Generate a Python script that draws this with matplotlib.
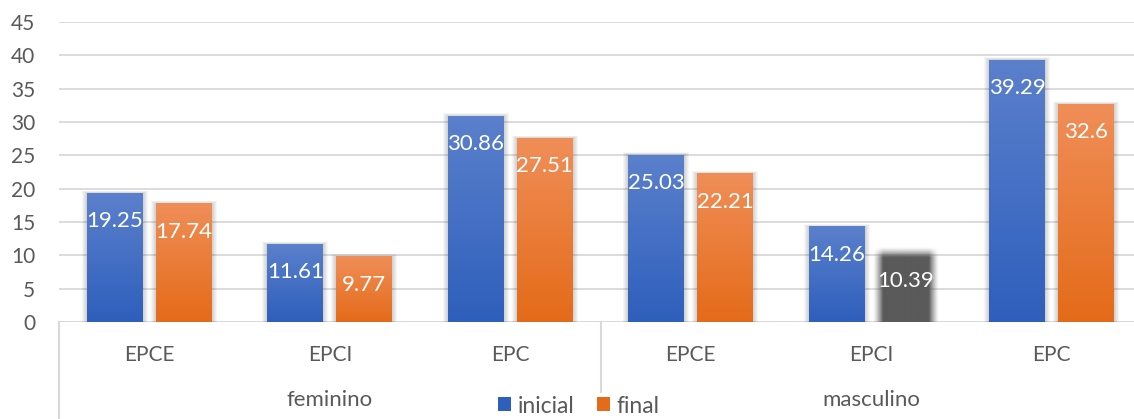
import numpy as np
import matplotlib
matplotlib.use('Agg')
import matplotlib.pyplot as plt
import matplotlib.transforms as mtransforms
from matplotlib.colors import to_rgb
from matplotlib.patches import Patch

plt.rcParams['font.family'] = ['Lato', 'DejaVu Sans']

# --- data -------------------------------------------------------------
categorias = ['EPCE', 'EPCI', 'EPC', 'EPCE', 'EPCI', 'EPC']
grupos = ['feminino', 'masculino']
inicial = [19.25, 11.61, 30.86, 25.03, 14.26, 39.29]
final = [17.74, 9.77, 27.51, 22.21, 10.39, 32.6]
serie_nomes = ['inicial', 'final']

# --- style ------------------------------------------------------------
TXT = '#595959'
GRID = '#d9d9d9'
AZUL = ('#5b80cc', '#2e5fbc')        # top, bottom of gradient
LARANJA = ('#f08e58', '#e46b19')
CINZA = '#5a5a5a'
W = 0.31                              # bar width
OFF = 0.191                           # bar offset from category centre


def gradient(c_top, c_bot, n=256):
    t = np.linspace(0, 1, n)[:, None]
    a, b = np.array(to_rgb(c_top)), np.array(to_rgb(c_bot))
    img = a * (1 - t) + b * t
    return img[:, None, :]


def shadow(ax, x0, x1, h, px_x, px_y):
    # soft halo around a bar, built from stacked translucent rectangles
    for k in range(1, 6):
        ax.add_patch(plt.Rectangle((x0 - k * px_x, 0), (x1 - x0) + 2 * k * px_x,
                                   h + k * px_y * 0.6, color='k',
                                   alpha=0.035, lw=0, zorder=1.5))


def bar_grad(ax, xc, h, cols, px_x, px_y):
    x0, x1 = xc - W / 2, xc + W / 2
    shadow(ax, x0, x1, h, px_x, px_y)
    ax.imshow(gradient(*cols), extent=[x0, x1, 0, h], aspect='auto',
              zorder=2, interpolation='bilinear')


def bar_blur(ax, xc, h, col, px_x, px_y, r=5):
    # flat bar with soft edges
    x0, x1 = xc - W / 2 - r * px_x, xc + W / 2 + r * px_x
    y1 = h + r * px_y
    nx, ny = 200, 400
    xs = np.linspace(x0, x1, nx)
    ys = np.linspace(y1, 0, ny)
    dx = np.minimum(xs - x0, x1 - xs) / (2 * r * px_x)
    dy = (y1 - ys) / (2 * r * px_y)
    alpha = np.clip(dy, 0, 1)[:, None] * np.clip(dx, 0, 1)[None, :]
    alpha = alpha ** 1.3
    img = np.zeros((ny, nx, 4))
    img[..., :3] = to_rgb(col)
    img[..., 3] = alpha
    ax.imshow(img, extent=[x0, x1, 0, y1], aspect='auto', zorder=2,
              interpolation='bilinear')


fig = plt.figure(figsize=(11.34, 4.19), dpi=100)
ax = fig.add_axes([59 / 1134, 97 / 419, (180.5 * 6) / 1134, 300 / 419])

# one pixel expressed in data units
px_x = 1 / 180.5
px_y = 45 / 300

x = np.arange(len(categorias))
for i in x:
    bar_grad(ax, i - OFF, inicial[i], AZUL, px_x, px_y)
    if i == 4:
        bar_blur(ax, i + OFF, final[i], CINZA, px_x, px_y)
    else:
        bar_grad(ax, i + OFF, final[i], LARANJA, px_x, px_y)

# value labels inside the top of each bar
for i in x:
    for xc, v in ((i - OFF, inicial[i]), (i + OFF, final[i])):
        ax.annotate(f'{v:g}', (xc, v), xytext=(0, -20), textcoords='offset points',
                    ha='center', va='center', color='white', fontsize=16,
                    zorder=5)

ax.set_xlim(-0.5, 5.5)
ax.set_ylim(0, 45)

# gridlines
ax.set_yticks(np.arange(0, 50, 5))
ax.yaxis.grid(True, color=GRID, lw=1.3, zorder=0)
ax.set_axisbelow(True)
ax.tick_params(axis='y', length=0, labelsize=15, labelcolor=TXT, pad=17)
ax.set_xticks([])
for s in ax.spines.values():
    s.set_visible(False)
ax.axhline(0, color=GRID, lw=1.3, zorder=1)

# two-level category axis
tr = mtransforms.blended_transform_factory(ax.transData, fig.transFigure)
for i, c in enumerate(categorias):
    ax.text(i, 1 - 355 / 419, c, transform=tr, ha='center', va='center',
            fontsize=15, color=TXT, clip_on=False)
for g, nome in enumerate(grupos):
    ax.text(3 * g + 1, 1 - 400 / 419, nome, transform=tr, ha='center',
            va='center', fontsize=16, color=TXT, clip_on=False)
for xv in (-0.5, 2.5, 5.5):
    ax.plot([xv, xv], [1 - 322 / 419, 0], transform=tr, color=GRID, lw=1.5,
            clip_on=False, zorder=0)

handles = [Patch(facecolor=AZUL[1], edgecolor='none'),
           Patch(facecolor=LARANJA[1], edgecolor='none')]
fig.legend(handles, serie_nomes, loc='center', bbox_to_anchor=(579 / 1134, 1 - 406 / 419),
           ncol=2, frameon=True, facecolor='white', edgecolor='none', framealpha=1,
           fontsize=16.5, labelcolor=TXT, handlelength=0.55, handleheight=0.55,
           handletextpad=0.3, columnspacing=1.0, borderpad=0.1, borderaxespad=0)

fig.savefig('out.png', dpi=100)
